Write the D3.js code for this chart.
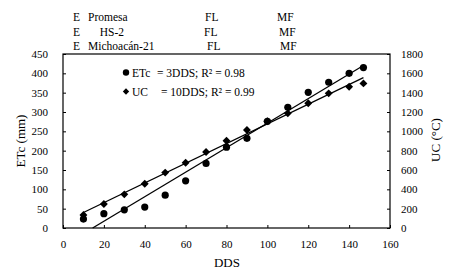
<!DOCTYPE html>
<html>
<head>
<meta charset="utf-8">
<script src="https://cdn.jsdelivr.net/npm/d3@7"></script>
<style>
  body { margin: 0; background: #fff; }
  text { font-family: "Liberation Serif", "Times New Roman", serif; fill: #000; }
</style>
</head>
<body>
<div class="chart"></div>
<script>
// days after sowing
const dds = [10, 20, 30, 40, 50, 60, 70, 80, 90, 100, 110, 120, 130, 140, 147];
// crop evapotranspiration (mm)
const etc = [23, 37, 47, 54, 85, 122, 167, 209, 232, 276, 312, 351, 377, 400, 415];
// heat units (°C)
const uc = [134, 248, 348, 458, 573, 675, 786, 903, 1013, 1105, 1186, 1290, 1393, 1461, 1496];

const xTicks = [0, 20, 40, 60, 80, 100, 120, 140, 160];
const yTicks = [0, 50, 100, 150, 200, 250, 300, 350, 400, 450];
const y2Ticks = [0, 200, 400, 600, 800, 1000, 1200, 1400, 1600, 1800];

const header = [
  ['E', 'Promesa', 'FL', 'MF'],
  ['E', '  HS-2', 'FL', 'MF'],
  ['E', 'Michoacán-21', 'FL', 'MF'],
];

const W = 454, H = 276;
const margin = { top: 54, right: 64, bottom: 48, left: 63 };
const width = W - margin.left - margin.right;
const height = H - margin.top - margin.bottom;
const serif = '"Liberation Serif", "Times New Roman", serif';

const root = d3.select('.chart')
  .append('svg')
  .attr('width', W)
  .attr('height', H);

// header rows (variety / FL / MF)
const hx = [73, 88, 205, 277];
const hxShift = [[0, 0, 0, 0], [0, 6, -1, 2], [0, 0, 2, 3]];
header.forEach((row, i) => {
  row.forEach((t, j) => {
    root.append('text')
      .attr('x', hx[j] + hxShift[i][j])
      .attr('y', 21 + i * 14.5)
      .style('font-size', '11.5px')
      .style('white-space', 'pre')
      .text(t);
  });
});

const svg = root.append('g')
  .attr('transform', `translate(${margin.left}, ${margin.top})`);

const xScale = d3.scaleLinear().domain([0, 160]).range([0, width]);
const yScale = d3.scaleLinear().domain([0, 450]).range([height, 0]);
const y2Scale = d3.scaleLinear().domain([0, 1800]).range([height, 0]);

// frame
svg.append('rect')
  .attr('width', width)
  .attr('height', height)
  .attr('fill', 'none')
  .attr('stroke', '#000')
  .attr('stroke-width', 1.2);

const styleAxis = g => {
  g.attr('font-family', serif).attr('font-size', 11);
  g.select('.domain').remove();
  g.selectAll('line').attr('stroke', '#000');
  g.selectAll('text')
    .style('font-family', serif)
    .style('font-size', '11px');
};

const fmt = d3.format('d');

svg.append('g')
  .attr('transform', `translate(0, ${height})`)
  .call(d3.axisBottom(xScale).tickValues(xTicks).tickFormat(fmt).tickSize(-3).tickPadding(12))
  .call(styleAxis);

svg.append('g')
  .call(d3.axisLeft(yScale).tickValues(yTicks).tickFormat(fmt).tickSize(-3).tickPadding(15))
  .call(styleAxis);

svg.append('g')
  .attr('transform', `translate(${width}, 0)`)
  .call(d3.axisRight(y2Scale).tickValues(y2Ticks).tickFormat(fmt).tickSize(-3).tickPadding(11))
  .call(styleAxis);

// axis titles
root.append('text')
  .attr('x', 227).attr('y', 267)
  .attr('text-anchor', 'middle')
  .style('font-size', '13px')
  .text('DDS');

root.append('text')
  .attr('transform', 'translate(25, 141) rotate(-90)')
  .attr('text-anchor', 'middle')
  .style('font-size', '13px')
  .text('ETc (mm)');

root.append('text')
  .attr('transform', 'translate(440, 140) rotate(-90)')
  .attr('text-anchor', 'middle')
  .style('font-size', '13px')
  .text('UC (°C)');

// least squares fit
function fit(xs, ys) {
  const mx = d3.mean(xs), my = d3.mean(ys);
  const b = d3.sum(xs, (x, i) => (x - mx) * (ys[i] - my)) / d3.sum(xs, x => (x - mx) * (x - mx));
  return { b, a: my - b * mx };
}

const plot = svg.append('g');

// trend line for ETc (clipped at zero)
const fE = fit(dds, etc);
const xE0 = Math.max(d3.min(dds), -fE.a / fE.b);
const xE1 = d3.max(dds);
plot.append('line')
  .attr('x1', xScale(xE0)).attr('y1', yScale(fE.a + fE.b * xE0))
  .attr('x2', xScale(xE1)).attr('y2', yScale(fE.a + fE.b * xE1))
  .attr('stroke', '#000').attr('stroke-width', 1.3);

// trend line for UC
const fU = fit(dds, uc);
const xU0 = d3.min(dds), xU1 = d3.max(dds);
plot.append('line')
  .attr('x1', xScale(xU0)).attr('y1', y2Scale(fU.a + fU.b * xU0))
  .attr('x2', xScale(xU1)).attr('y2', y2Scale(fU.a + fU.b * xU1))
  .attr('stroke', '#000').attr('stroke-width', 1.3);

const diamond = d3.symbol().type(d3.symbolDiamond2).size(40);

plot.selectAll('path.uc')
  .data(dds)
  .enter()
  .append('path')
  .attr('class', 'uc')
  .attr('d', diamond)
  .attr('transform', (d, i) => `translate(${xScale(d)}, ${y2Scale(uc[i])})`)
  .attr('fill', '#000');

plot.selectAll('circle.etc')
  .data(dds)
  .enter()
  .append('circle')
  .attr('class', 'etc')
  .attr('cx', d => xScale(d))
  .attr('cy', (d, i) => yScale(etc[i]))
  .attr('r', 3.6)
  .attr('fill', '#000');

// legend
const leg = root.append('g');
leg.append('circle').attr('cx', 126).attr('cy', 72.5).attr('r', 3.2).attr('fill', '#000');
leg.append('text').attr('x', 132).attr('y', 77).style('font-size', '11.5px').text('ETc');
leg.append('text').attr('x', 157).attr('y', 77).style('font-size', '11.5px').text('= 3DDS; R² = 0.98');
leg.append('path')
  .attr('d', d3.symbol().type(d3.symbolDiamond2).size(26))
  .attr('transform', 'translate(126, 91.5)')
  .attr('fill', '#000');
leg.append('text').attr('x', 132).attr('y', 96).style('font-size', '11.5px').text('UC');
leg.append('text').attr('x', 161).attr('y', 96).style('font-size', '11.5px').text('= 10DDS; R² = 0.99');
</script>
</body>
</html>
